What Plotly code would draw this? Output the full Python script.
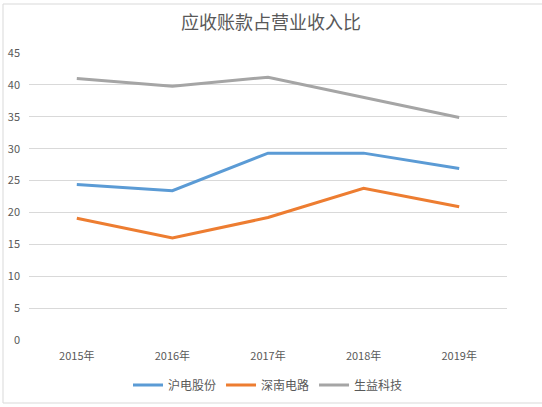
import plotly.graph_objects as go

# Categories and series values
years = ['2015年', '2016年', '2017年', '2018年', '2019年']
hudian = [24.4, 23.4, 29.3, 29.3, 26.9]
shennan = [19.1, 16.0, 19.2, 23.8, 20.9]
shengyi = [41.0, 39.8, 41.2, 38.1, 34.9]

series_names = ['沪电股份', '深南电路', '生益科技']
series_colors = ['#5b9bd5', '#ed7d31', '#a5a5a5']
y_ticks = [0, 5, 10, 15, 20, 25, 30, 35, 40, 45]

font_family = 'Noto Sans CJK SC, Microsoft YaHei, sans-serif'
text_color = '#595959'

fig = go.Figure()

for name, values, color in zip(series_names, [hudian, shennan, shengyi], series_colors):
    fig.add_trace(go.Scatter(
        x=years,
        y=values,
        name=name,
        mode='lines',
        line={'color': color, 'width': 3},
    ))

# Layout settings
fig.update_layout(
    width=542,
    height=407,
    margin={'l': 29, 'r': 35, 't': 53, 'b': 67, 'autoexpand': False},
    paper_bgcolor='white',
    plot_bgcolor='white',
    font={'family': font_family, 'color': text_color, 'size': 11},
    title={
        'text': '应收账款占营业收入比',
        'x': 0.5,
        'xanchor': 'center',
        'y': 0.945,
        'yanchor': 'middle',
        'font': {'size': 18, 'color': text_color},
    },
    showlegend=True,
    legend={
        'orientation': 'h',
        'x': 0.5,
        'xanchor': 'center',
        'yref': 'container',
        'y': 22 / 407,
        'yanchor': 'middle',
        'font': {'size': 12},
        'itemwidth': 30,
    },
    xaxis={
        'type': 'category',
        'range': [-0.5, 4.5],
        'showgrid': False,
        'zeroline': False,
        'showline': False,
        'ticks': '',
        'tickfont': {'size': 11},
        'ticklabelstandoff': 8,
    },
    yaxis={
        'range': [0, 45],
        'tickvals': y_ticks,
        'showgrid': True,
        'gridcolor': '#d9d9d9',
        'gridwidth': 1,
        'zeroline': False,
        'showline': False,
        'ticks': '',
        'tickfont': {'size': 11},
        'ticklabelstandoff': 8,
    },
    shapes=[{
        'type': 'rect',
        'xref': 'paper',
        'yref': 'paper',
        'x0': -26 / 478,
        'x1': 531 / 478,
        'y0': -63 / 287,
        'y1': 49 / 287 + 1,
        'line': {'color': '#d9d9d9', 'width': 1},
        'layer': 'below',
    }],
)

# drop the browser's default page margin so the figure sits at the top-left corner
fig.write_html(
    "out.html",
    config={'displayModeBar': False},
    post_script=["document.body.style.margin = '0';"],
)
